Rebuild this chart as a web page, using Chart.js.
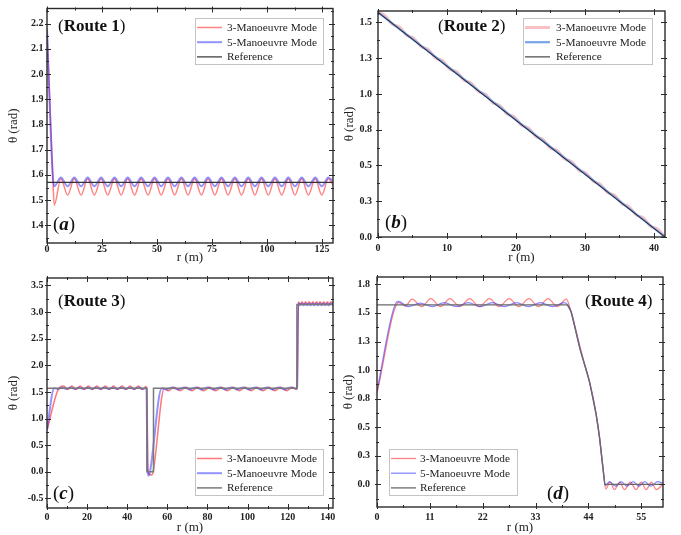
<!DOCTYPE html>
<html>
<head>
<meta charset="utf-8">
<title>Heading angle vs. arc length</title>
<script src="https://cdn.jsdelivr.net/npm/chart.js@4.4.1/dist/chart.umd.min.js"></script>
<style>
  body { margin: 0; background: #fff; }
  #wrap { position: relative; width: 681px; height: 535px; overflow: hidden; }
  #wrap canvas { position: absolute; }
</style>
</head>
<body>
<div id="wrap">
  <canvas id="route1" width="340" height="265" style="left:0;top:0"></canvas>
  <canvas id="route2" width="341" height="265" style="left:340px;top:0"></canvas>
  <canvas id="route3" width="340" height="270" style="left:0;top:265px"></canvas>
  <canvas id="route4" width="341" height="270" style="left:340px;top:265px"></canvas>
</div>
<script>
// ---------- Route 1 ----------
const r1X = [0, 2.6, 3.3, 6.3, 9.4, 12.4, 15.5, 18.5, 21.5, 24.6,
  27.6, 30.7, 33.7, 36.7, 39.8, 42.8, 45.9, 48.9, 51.9, 55.0,
  58.0, 61.1, 64.1, 67.1, 70.2, 73.2, 76.3, 79.3, 82.3, 85.4,
  88.4, 91.5, 94.5, 97.5, 100.6, 103.6, 106.7, 109.7, 112.7, 115.8,
  118.8, 121.9, 124.9, 127.9, 130];
const r1Three = [2.17, 1.60, 1.48, 1.585, 1.52, 1.585, 1.52, 1.585, 1.52, 1.585,
  1.52, 1.585, 1.52, 1.585, 1.52, 1.585, 1.52, 1.585, 1.52, 1.585,
  1.52, 1.585, 1.52, 1.585, 1.52, 1.585, 1.52, 1.585, 1.52, 1.585,
  1.52, 1.585, 1.52, 1.585, 1.52, 1.585, 1.52, 1.585, 1.52, 1.585,
  1.52, 1.585, 1.52, 1.585, 1.56];
const r1Five = [2.18, 1.60, 1.555, 1.59, 1.555, 1.59, 1.555, 1.59, 1.555, 1.59,
  1.555, 1.59, 1.555, 1.59, 1.555, 1.59, 1.555, 1.59, 1.555, 1.59,
  1.555, 1.59, 1.555, 1.59, 1.555, 1.59, 1.555, 1.59, 1.555, 1.59,
  1.555, 1.59, 1.555, 1.59, 1.555, 1.59, 1.555, 1.59, 1.555, 1.59,
  1.555, 1.59, 1.555, 1.59, 1.575];
const r1RefX = [0, 130];
const r1RefY = [1.5708, 1.5708];
const r1XTicks = [0, 25, 50, 75, 100, 125];
const r1YTicks = [1.4, 1.5, 1.6, 1.7, 1.8, 1.9, 2.0, 2.1, 2.2];
const r1YLabels = ["1.4", "1.5", "1.6", "1.7", "1.8", "1.9", "2.0", "2.1", "2.2"];

// ---------- Route 2 ----------
const r2X = [0, 1.04, 2.08, 3.12, 4.16, 5.2, 6.24, 7.28, 8.32, 9.36,
  10.4, 11.44, 12.48, 13.52, 14.56, 15.6, 16.64, 17.68, 18.72, 19.76,
  20.8, 21.84, 22.88, 23.92, 24.96, 26.0, 27.04, 28.08, 29.12, 30.16,
  31.2, 32.24, 33.28, 34.32, 35.36, 36.4, 37.44, 38.48, 39.52, 40.56,
  41.6];
const r2Three = [1.571, 1.547, 1.488, 1.468, 1.410, 1.389, 1.331, 1.311, 1.253, 1.232,
  1.174, 1.154, 1.096, 1.075, 1.017, 0.997, 0.938, 0.918, 0.860, 0.840,
  0.781, 0.761, 0.703, 0.683, 0.624, 0.604, 0.546, 0.526, 0.467, 0.447,
  0.389, 0.368, 0.310, 0.290, 0.232, 0.211, 0.153, 0.133, 0.075, 0.054,
  0.000];
const r2FiveX = [0, 5.2, 10.4, 15.6, 20.8, 26.0, 31.2, 36.4, 41.6];
const r2Five = [1.571, 1.376, 1.181, 0.985, 0.788, 0.592, 0.396, 0.199, 0.0];
const r2RefX = [0, 41.6];
const r2RefY = [1.5708, 0];
const r2XTicks = [0, 10, 20, 30, 40];
const r2YTicks = [0, 0.25, 0.5, 0.75, 1.0, 1.25, 1.5];
const r2YLabels = ["0.0", "0.3", "0.5", "0.8", "1.0", "1.3", "1.5"];

// ---------- Route 3 ----------
const r3XThree = [0, 5.8, 8.3, 10.4, 12.4, 14.5, 16.6, 18.7, 20.7, 22.8,
  24.9, 27.0, 29.1, 31.2, 33.2, 35.3, 37.4, 39.5, 41.5, 43.6,
  45.6, 47.6, 49.3, 49.8, 50.3, 51.2, 52.2, 53.0, 58.5, 60.5,
  63.4, 66.4, 69.3, 72.3, 75.2, 78.2, 81.1, 84.1, 87.0, 90.0,
  92.9, 95.9, 98.8, 101.8, 104.7, 107.7, 110.6, 113.6, 116.5, 119.5,
  122.4, 124.3, 124.7, 125.4, 126.3, 127.2, 128.1, 129.0, 129.9, 130.8,
  131.7, 132.6, 133.5, 134.4, 135.3, 136.2, 137.1, 138.0, 138.9, 139.8,
  140.7, 141.6, 142.6];
const r3Three = [0.78, 1.56, 1.61, 1.55, 1.61, 1.55, 1.61, 1.55, 1.61, 1.55,
  1.61, 1.55, 1.61, 1.55, 1.61, 1.55, 1.61, 1.55, 1.61, 1.55,
  1.61, 1.55, 1.60, 1.56, 0.02, -0.05, -0.06, 0.02, 1.57, 1.52,
  1.59, 1.52, 1.59, 1.52, 1.59, 1.52, 1.59, 1.52, 1.59, 1.52,
  1.59, 1.52, 1.59, 1.52, 1.59, 1.52, 1.59, 1.52, 1.59, 1.52,
  1.59, 1.55, 1.57, 3.19, 3.15, 3.19, 3.15, 3.19, 3.15, 3.19,
  3.15, 3.19, 3.15, 3.19, 3.15, 3.19, 3.15, 3.19, 3.15, 3.19,
  3.15, 3.19, 3.16];
const r3XFive = [0, 3.6, 5.5, 7.6, 9.7, 11.8, 13.9, 16.0, 18.1, 20.2,
  22.3, 24.4, 26.5, 28.6, 30.7, 32.8, 34.9, 37.0, 39.1, 41.2,
  43.3, 45.4, 47.5, 49.6, 50.1, 50.6, 51.3, 57.2, 59.5, 62.4,
  65.4, 68.3, 71.3, 74.2, 77.2, 80.1, 83.1, 86.0, 89.0, 91.9,
  94.9, 97.8, 100.8, 103.7, 106.7, 109.6, 112.6, 115.5, 118.5, 121.4,
  124.4, 124.7, 125.2, 126.1, 127.0, 127.9, 128.8, 129.7, 130.6, 131.5,
  132.4, 133.3, 134.2, 135.1, 136.0, 136.9, 137.8, 138.7, 139.6, 140.5,
  141.4, 142.6];
const r3Five = [0.80, 1.57, 1.555, 1.585, 1.555, 1.585, 1.555, 1.585, 1.555, 1.585,
  1.555, 1.585, 1.555, 1.585, 1.555, 1.585, 1.555, 1.585, 1.555, 1.585,
  1.555, 1.585, 1.555, 1.57, 0.05, -0.07, -0.01, 1.57, 1.545, 1.585,
  1.545, 1.585, 1.545, 1.585, 1.545, 1.585, 1.545, 1.585, 1.545, 1.585,
  1.545, 1.585, 1.545, 1.585, 1.545, 1.585, 1.545, 1.585, 1.545, 1.585,
  1.56, 1.60, 3.17, 3.13, 3.16, 3.13, 3.16, 3.13, 3.16, 3.13,
  3.16, 3.13, 3.16, 3.13, 3.16, 3.13, 3.16, 3.13, 3.16, 3.13,
  3.16, 3.14];
const r3RefX = [0, 49.8, 49.8, 53.1, 53.1, 124.6, 124.6, 142.6];
const r3RefY = [1.5708, 1.5708, 0, 0, 1.5708, 1.5708, 3.1416, 3.1416];
const r3XTicks = [0, 20, 40, 60, 80, 100, 120, 140];
const r3YTicks = [-0.5, 0, 0.5, 1.0, 1.5, 2.0, 2.5, 3.0, 3.5];
const r3YLabels = ["-0.5", "0.0", "0.5", "1.0", "1.5", "2.0", "2.5", "3.0", "3.5"];

// ---------- Route 4 ----------
const r4XThree = [0, 4.6, 5.9, 7.3, 9.3, 11.2, 13.2, 15.2, 17.2, 19.3,
  21.3, 23.4, 25.4, 27.5, 29.5, 31.6, 33.6, 35.6, 37.5, 39.4,
  40.4, 41.3, 42.2, 43.2, 44.2, 45.0, 45.6, 46.3, 47.0, 47.6,
  48.5, 49.4, 50.5, 51.5, 52.7, 53.9, 55.0, 56.0, 57.1, 58.1,
  59.5];
const r4Three = [0.80, 1.59, 1.56, 1.62, 1.555, 1.625, 1.555, 1.625, 1.555, 1.625,
  1.555, 1.625, 1.555, 1.625, 1.555, 1.625, 1.555, 1.625, 1.555, 1.62,
  1.50, 1.36, 1.21, 1.05, 0.90, 0.75, 0.61, 0.41, 0.14, -0.04,
  0.02, -0.045, 0.02, -0.045, 0.02, -0.045, 0.02, -0.045, 0.02, -0.045,
  0.0];
const r4XFive = [0, 4.0, 4.5, 6.5, 9.0, 11.5, 14.0, 16.5, 19.0, 21.5,
  24.0, 26.5, 29.0, 31.5, 34.0, 36.5, 39.0, 39.7, 40.4, 42.2,
  44.2, 45.6, 46.3, 47.0, 47.5, 48.4, 49.6, 50.8, 52.0, 53.3,
  54.5, 55.7, 57.0, 58.4, 59.5];
const r4Five = [0.82, 1.59, 1.60, 1.555, 1.585, 1.555, 1.59, 1.555, 1.59, 1.555,
  1.59, 1.555, 1.59, 1.555, 1.59, 1.555, 1.59, 1.57, 1.51, 1.19,
  0.90, 0.61, 0.41, 0.15, -0.01, 0.025, -0.015, 0.025, -0.015, 0.025,
  -0.015, 0.025, -0.015, 0.025, 0.01];
const r4RefX = [0, 39.6, 40.4, 42.2, 44.2, 45.6, 46.3, 47.0, 47.4, 59.5];
const r4RefY = [1.5708, 1.5708, 1.51, 1.19, 0.90, 0.61, 0.41, 0.15, 0.0, 0.0];
const r4XTicks = [0, 11, 22, 33, 44, 55];
const r4YTicks = [0, 0.25, 0.5, 0.75, 1.0, 1.25, 1.5, 1.75];
const r4YLabels = ["0.0", "0.3", "0.5", "0.8", "1.0", "1.3", "1.5", "1.8"];

const SERIF = "'Liberation Serif', 'Times New Roman', serif";

function pts(xs, ys) {
  return xs.map((x, i) => ({ x: x, y: ys[i] }));
}

// one minor tick half way between the majors, carried to both ends of the axis
function minorValues(major, lo, hi) {
  const step = major[1] - major[0];
  const out = [];
  for (let v = major[0] - step / 2; v <= hi + 1e-9; v += step) {
    if (v >= lo - 1e-9) out.push(v);
  }
  return out;
}

// box around the plot plus in/out tick marks on all four sides
const framePlugin = {
  id: "frame",
  afterDatasetsDraw(chart) {
    const { ctx, chartArea: a, scales } = chart;
    const xs = scales.x, ys = scales.y;
    ctx.save();
    ctx.strokeStyle = "#2b2b2b";
    ctx.lineWidth = 1;
    ctx.beginPath();
    const xTick = (v, tin, tout) => {
      const p = Math.round(xs.getPixelForValue(v)) + 0.5;
      ctx.moveTo(p, a.bottom + tout); ctx.lineTo(p, a.bottom - tin);
      ctx.moveTo(p, a.top - tout); ctx.lineTo(p, a.top + tin);
    };
    const yTick = (v, tin, tout) => {
      const p = Math.round(ys.getPixelForValue(v)) + 0.5;
      ctx.moveTo(a.left - tout, p); ctx.lineTo(a.left + tin, p);
      ctx.moveTo(a.right + tout, p); ctx.lineTo(a.right - tin, p);
    };
    const xMajor = xs.ticks.map(t => t.value);
    const yMajor = ys.ticks.map(t => t.value);
    xMajor.forEach(v => xTick(v, 4, 2));
    yMajor.forEach(v => yTick(v, 4, 2));
    minorValues(xMajor, xs.min, xs.max).forEach(v => xTick(v, 2, 1));
    minorValues(yMajor, ys.min, ys.max).forEach(v => yTick(v, 2, 1));
    ctx.stroke();
    ctx.lineWidth = 1.4;
    ctx.strokeRect(a.left, a.top, a.right - a.left, a.bottom - a.top);
    ctx.restore();
  }
};

function drawParts(ctx, x, y, parts) {
  ctx.textBaseline = "middle";
  ctx.textAlign = "left";
  parts.forEach(p => {
    ctx.font = p.font;
    ctx.fillText(p.text, x, y);
    x += ctx.measureText(p.text).width;
  });
}

// legend box, route caption and panel letter
const notesPlugin = {
  id: "notes",
  afterDraw(chart, args, opts) {
    const ctx = chart.ctx;
    const L = opts.legend;
    ctx.save();
    ctx.fillStyle = "#fff";
    ctx.fillRect(L.x, L.y, L.w, L.h);
    ctx.strokeStyle = "#c4c4c4";
    ctx.lineWidth = 1;
    ctx.strokeRect(L.x + 0.5, L.y + 0.5, L.w, L.h);
    chart.data.datasets.forEach((ds, i) => {
      const yy = L.y + 9.5 + i * 14.7;
      ctx.strokeStyle = ds.borderColor;
      ctx.lineWidth = ds.borderWidth;
      ctx.beginPath();
      ctx.moveTo(L.x + 2, yy);
      ctx.lineTo(L.x + 27, yy);
      ctx.stroke();
      ctx.fillStyle = "#222";
      ctx.font = "11.3px " + SERIF;
      ctx.textBaseline = "middle";
      ctx.fillText(ds.label, L.x + L.tx, yy + 0.5);
    });
    ctx.fillStyle = "#111";
    drawParts(ctx, opts.route.x, opts.route.y, [
      { text: "(", font: "17px " + SERIF },
      { text: opts.route.text, font: "bold 17px " + SERIF },
      { text: ")", font: "17px " + SERIF }
    ]);
    drawParts(ctx, opts.letter.x, opts.letter.y, [
      { text: "(", font: "19px " + SERIF },
      { text: opts.letter.text, font: "italic bold 19px " + SERIF },
      { text: ")", font: "19px " + SERIF }
    ]);
    ctx.restore();
  }
};

function buildPanel(id, p) {
  const tickFont = { family: SERIF, size: 10, weight: "bold", lineHeight: 1 };
  const titleFont = { family: SERIF, size: 13, lineHeight: 1 };
  return new Chart(document.getElementById(id), {
    type: "line",
    data: {
      datasets: [
        {
          label: "3-Manoeuvre Mode",
          data: pts(p.x3, p.y3),
          borderColor: p.c3,
          borderWidth: p.w3,
          cubicInterpolationMode: "monotone",
          order: 3
        },
        {
          label: "5-Manoeuvre Mode",
          data: pts(p.x5, p.y5),
          borderColor: p.c5,
          borderWidth: p.w5,
          cubicInterpolationMode: "monotone",
          order: 2
        },
        {
          label: "Reference",
          data: pts(p.xr, p.yr),
          borderColor: p.cr,
          borderWidth: p.wr,
          tension: 0,
          order: 1
        }
      ]
    },
    options: {
      responsive: false,
      animation: false,
      events: [],
      layout: { padding: { left: 0, bottom: 0, top: p.top, right: p.right } },
      elements: { point: { radius: 0 } },
      plugins: {
        legend: { display: false },
        tooltip: { enabled: false },
        notes: { legend: p.legend, route: p.route, letter: p.letter }
      },
      scales: {
        x: {
          type: "linear",
          min: p.xMin,
          max: p.xMax,
          afterBuildTicks: s => { s.ticks = p.xTicks.map(v => ({ value: v })); },
          afterFit: s => { s.height = p.xh; },
          ticks: { autoSkip: false, maxRotation: 0, padding: p.xpad, font: tickFont, color: "#222", callback: v => String(v) },
          grid: { display: false, drawTicks: false },
          border: { display: false },
          title: { display: true, text: "r (m)", font: titleFont, color: "#222", padding: { top: 0, bottom: 0.5 } }
        },
        y: {
          type: "linear",
          min: p.yMin,
          max: p.yMax,
          afterBuildTicks: s => { s.ticks = p.yTicks.map(v => ({ value: v })); },
          afterFit: s => { s.width = p.yw; },
          ticks: { autoSkip: false, padding: p.ypad, font: tickFont, color: "#222", callback: (v, i) => p.yLabels[i] },
          grid: { display: false, drawTicks: false },
          border: { display: false },
          title: { display: true, text: "θ (rad)", font: titleFont, color: "#222", padding: { top: p.ytp, bottom: 0 } }
        }
      }
    },
    plugins: [framePlugin, notesPlugin]
  });
}

buildPanel("route1", {
  x3: r1X, y3: r1Three, x5: r1X, y5: r1Five, xr: r1RefX, yr: r1RefY,
  c3: "rgba(255,30,30,0.55)", w3: 1.5, c5: "rgba(40,40,255,0.5)", w5: 2, cr: "#333", wr: 1.2,
  xMin: 0, xMax: 130, yMin: 1.33, yMax: 2.26,
  xTicks: r1XTicks, yTicks: r1YTicks, yLabels: r1YLabels,
  top: 5, right: 7, yw: 47, xh: 22, xpad: 1, ypad: 3.5, ytp: 7,
  legend: { x: 195, y: 18, w: 128, h: 46, tx: 32 },
  route: { text: "Route 1", x: 58, y: 27 },
  letter: { text: "a", x: 53, y: 225 }
});

buildPanel("route2", {
  x3: r2X, y3: r2Three, x5: r2FiveX, y5: r2Five, xr: r2RefX, yr: r2RefY,
  c3: "rgba(240,120,120,0.45)", w3: 3, c5: "rgba(70,135,225,0.75)", w5: 2.2, cr: "#222", wr: 1,
  xMin: 0, xMax: 41.6, yMin: 0, yMax: 1.58,
  xTicks: r2XTicks, yTicks: r2YTicks, yLabels: r2YLabels,
  top: 7, right: 16, yw: 38, xh: 28, xpad: 6, ypad: 6, ytp: 3.5,
  legend: { x: 183, y: 18, w: 129, h: 46, tx: 33 },
  route: { text: "Route 2", x: 98, y: 27 },
  letter: { text: "b", x: 45, y: 223 }
});

buildPanel("route3", {
  x3: r3XThree, y3: r3Three, x5: r3XFive, y5: r3Five, xr: r3RefX, yr: r3RefY,
  c3: "rgba(255,30,30,0.6)", w3: 1.5, c5: "rgba(40,40,255,0.5)", w5: 2, cr: "#7a7a7a", wr: 1.5,
  xMin: 0, xMax: 142.6, yMin: -0.68, yMax: 3.64,
  xTicks: r3XTicks, yTicks: r3YTicks, yLabels: r3YLabels,
  top: 13, right: 7, yw: 47, xh: 27, xpad: 4, ypad: 3.5, ytp: 7,
  legend: { x: 195, y: 184, w: 128, h: 46, tx: 32 },
  route: { text: "Route 3", x: 58, y: 37 },
  letter: { text: "c", x: 53, y: 229 }
});

buildPanel("route4", {
  x3: r4XThree, y3: r4Three, x5: r4XFive, y5: r4Five, xr: r4RefX, yr: r4RefY,
  c3: "rgba(255,30,30,0.55)", w3: 1.3, c5: "rgba(40,40,255,0.55)", w5: 1.3, cr: "#6a6a6a", wr: 1.3,
  xMin: 0, xMax: 59.5, yMin: -0.197, yMax: 1.814,
  xTicks: r4XTicks, yTicks: r4YTicks, yLabels: r4YLabels,
  top: 10, right: 18, yw: 37, xh: 28, xpad: 5, ypad: 7, ytp: 2,
  legend: { x: 49, y: 184, w: 128, h: 46, tx: 31 },
  route: { text: "Route 4", x: 245, y: 37 },
  letter: { text: "d", x: 207, y: 229 }
});
</script>
</body>
</html>
